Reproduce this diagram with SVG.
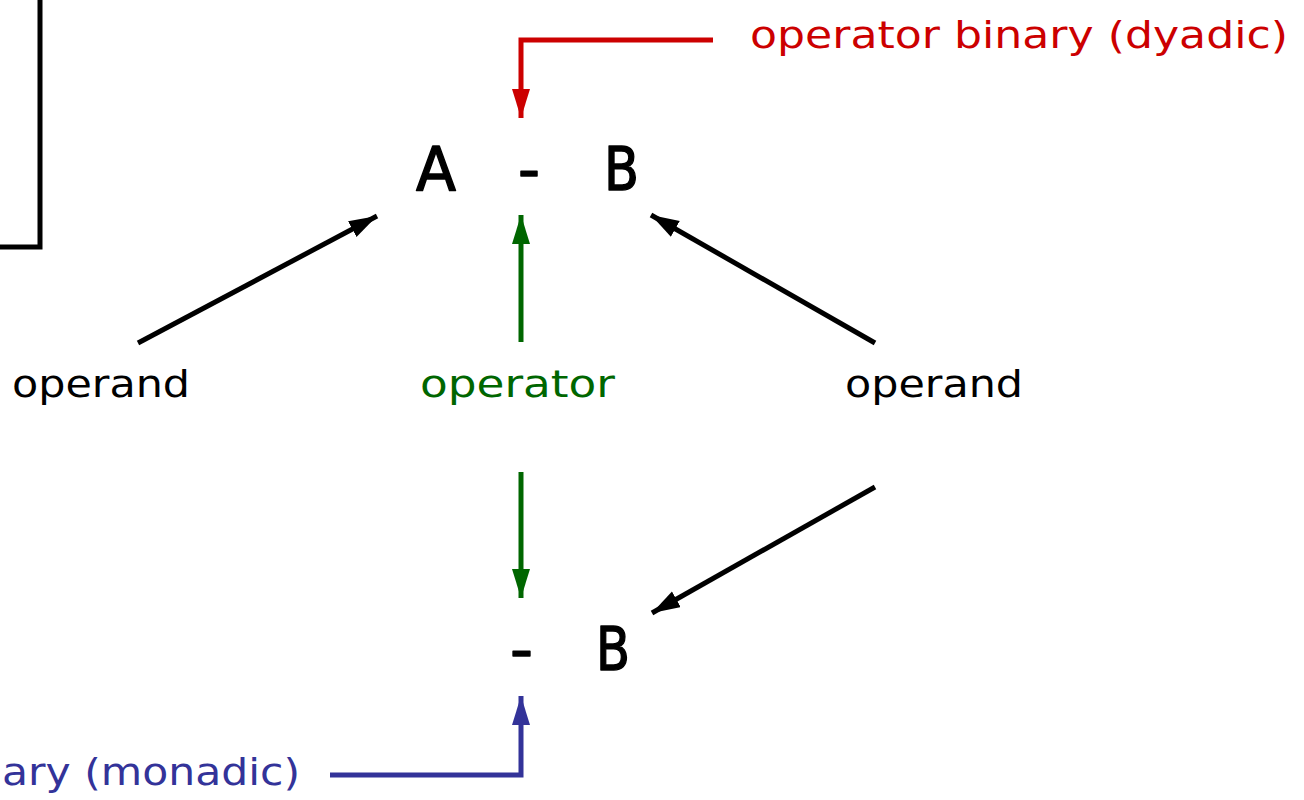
<svg xmlns="http://www.w3.org/2000/svg" width="1304" height="800" viewBox="0 0 1304 800">
  <style>
    text { font-family: "DejaVu Sans", "Liberation Sans", sans-serif; }
    .lbl { font-size: 38px; }
    .sym { font-size: 60px; fill: #000; stroke: #000; stroke-width: 1.5; stroke-linejoin: round; }
    .k { fill: #000; }
    .red { fill: #cc0000; }
    .grn { fill: #006600; }
    .blu { fill: #333399; }
    .ln { fill: none; stroke-width: 5; }
  </style>
  <defs>
    <marker id="ahRed" markerUnits="userSpaceOnUse" markerWidth="30" markerHeight="20" refX="29" refY="9" orient="auto">
      <path d="M0,0 L29,9 L0,18 z" fill="#cc0000"/>
    </marker>
    <marker id="ahGrn" markerUnits="userSpaceOnUse" markerWidth="30" markerHeight="20" refX="29" refY="9" orient="auto">
      <path d="M0,0 L29,9 L0,18 z" fill="#006600"/>
    </marker>
    <marker id="ahBlu" markerUnits="userSpaceOnUse" markerWidth="30" markerHeight="20" refX="29" refY="9" orient="auto">
      <path d="M0,0 L29,9 L0,18 z" fill="#333399"/>
    </marker>
    <marker id="ahBlk" markerUnits="userSpaceOnUse" markerWidth="30" markerHeight="20" refX="28" refY="9" orient="auto">
      <path d="M0,0 L28,9 L0,18 z" fill="#000"/>
    </marker>
  </defs>

  <rect width="1304" height="800" fill="#fff"/>

  <!-- frame corner at top left -->
  <g id="frame">
    <path d="M40,0 V247 H0" fill="none" stroke="#000" stroke-width="5"/>
  </g>

  <g id="connectors">
    <path class="ln" d="M713,40 H521 V118" stroke="#cc0000" marker-end="url(#ahRed)"/>
    <path class="ln" d="M521,342 V215" stroke="#006600" marker-end="url(#ahGrn)"/>
    <path class="ln" d="M521,472 V598" stroke="#006600" marker-end="url(#ahGrn)"/>
    <path class="ln" d="M330,775 H521 V696" stroke="#333399" marker-end="url(#ahBlu)"/>
    <path class="ln" d="M138,343 L377,216" stroke="#000" marker-end="url(#ahBlk)"/>
    <path class="ln" d="M875,343 L651,215" stroke="#000" marker-end="url(#ahBlk)"/>
    <path class="ln" d="M875,487 L652,613" stroke="#000" marker-end="url(#ahBlk)"/>
  </g>

  <g id="binary-label">
    <text class="lbl red" x="750" y="48" textLength="538" lengthAdjust="spacingAndGlyphs">operator binary (dyadic)</text>
  </g>

  <g id="binary-expr">
    <text class="sym" x="416" y="190" textLength="40" lengthAdjust="spacingAndGlyphs">A</text>
    <text class="sym" x="518" y="190" textLength="22" lengthAdjust="spacingAndGlyphs">-</text>
    <text class="sym" x="604" y="190" textLength="35" lengthAdjust="spacingAndGlyphs">B</text>
  </g>

  <g id="operand-left">
    <text class="lbl k" x="12" y="397" textLength="178" lengthAdjust="spacingAndGlyphs">operand</text>
  </g>
  <g id="operator">
    <text class="lbl grn" x="420" y="397" textLength="195" lengthAdjust="spacingAndGlyphs">operator</text>
  </g>
  <g id="operand-right">
    <text class="lbl k" x="845" y="397" textLength="178" lengthAdjust="spacingAndGlyphs">operand</text>
  </g>

  <g id="unary-expr">
    <text class="sym" x="510" y="670" textLength="23" lengthAdjust="spacingAndGlyphs">-</text>
    <text class="sym" x="596" y="670" textLength="34" lengthAdjust="spacingAndGlyphs">B</text>
  </g>

  <g id="unary-label">
    <text class="lbl blu" x="2" y="785" textLength="298" lengthAdjust="spacingAndGlyphs">ary (monadic)</text>
  </g>
</svg>
